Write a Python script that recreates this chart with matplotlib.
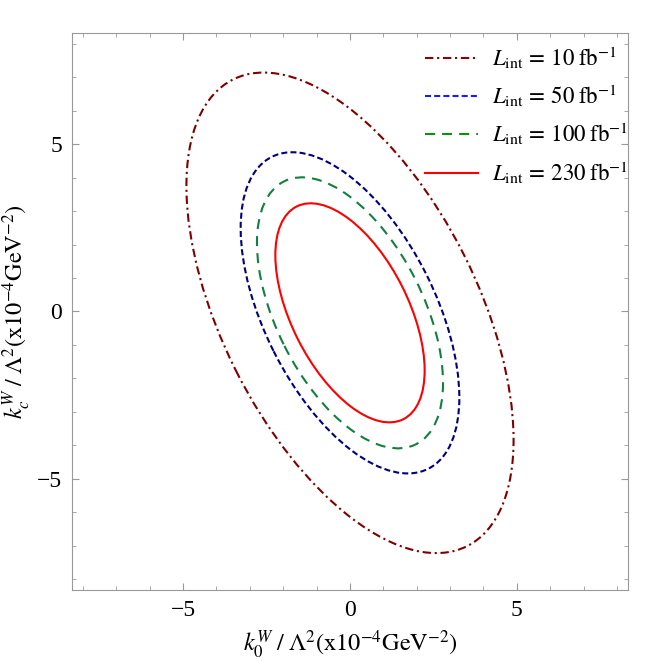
import numpy as np
import matplotlib
matplotlib.use("Agg")
import matplotlib.pyplot as plt
from matplotlib.patches import Ellipse
from matplotlib.lines import Line2D
from matplotlib.ticker import MultipleLocator

plt.rcParams["font.family"] = ["Liberation Serif", "DejaVu Serif"]
plt.rcParams["mathtext.fontset"] = "stix"

# contour ellipses (data units)
lumi = [10, 50, 100, 230]
semi_major = [7.81, 5.22, 4.40, 3.56]
semi_minor = [3.83, 2.56, 2.20, 1.75]
tilt = [-63.3, -63.3, -63.3, -63.3]
center_x = [0.0, 0.0, 0.0, 0.0]
center_y = [-0.04, -0.04, -0.04, -0.04]

line_colors = ["#800000", "#000080", "#108040", "#ff0000"]
legend_colors = ["#900000", "#1a1aff", "#109010", "#ff0000"]
dashes = [(0, (4.0, 1.8, 1.0, 1.8)), (0, (2.9, 1.5)), (0, (4.8, 3.4)), "solid"]

fig = plt.figure(figsize=(6.64, 6.61), dpi=100)
ax = fig.add_axes([0.1084, 0.1074, 0.8374, 0.8427])

for i in range(len(lumi)):
    e = Ellipse((center_x[i], center_y[i]), 2 * semi_major[i], 2 * semi_minor[i],
                angle=tilt[i], fill=False, edgecolor=line_colors[i],
                linewidth=1.5, linestyle=dashes[i])
    ax.add_patch(e)

ax.set_xlim(-8.33, 8.33)
ax.set_ylim(-8.33, 8.33)
ax.xaxis.set_major_locator(MultipleLocator(5))
ax.yaxis.set_major_locator(MultipleLocator(5))
ax.xaxis.set_minor_locator(MultipleLocator(1))
ax.yaxis.set_minor_locator(MultipleLocator(1))
ax.tick_params(which="both", direction="in", top=True, right=True,
               color="#999999", labelsize=17, pad=7)
ax.tick_params(which="major", length=5, width=0.8)
ax.tick_params(which="minor", length=2.7, width=0.6)
for s in ax.spines.values():
    s.set_color("#999999")
    s.set_linewidth(0.8)

ax.set_xlabel(r"$k_0^W\;/\;\Lambda^2(\mathrm{x10^{-4}GeV^{-2}})$", fontsize=17.5, labelpad=6)
ax.set_ylabel(r"$k_c^W\;/\;\Lambda^2(\mathrm{x10^{-4}GeV^{-2}})$", fontsize=17.5, labelpad=3)

handles = [Line2D([], [], color=legend_colors[i], linewidth=1.5, linestyle=dashes[i])
           for i in range(len(lumi))]
labels = [r"$L_{\mathrm{int}}\,=\,%d\;\mathrm{fb}^{-1}$" % l for l in lumi]
ax.legend(handles, labels, loc="upper right", bbox_to_anchor=(1.03, 1.008),
          frameon=False, fontsize=16.5, handlelength=2.3, handletextpad=0.65,
          labelspacing=0.53, borderaxespad=0.3)

fig.savefig("out.png", dpi=100)
